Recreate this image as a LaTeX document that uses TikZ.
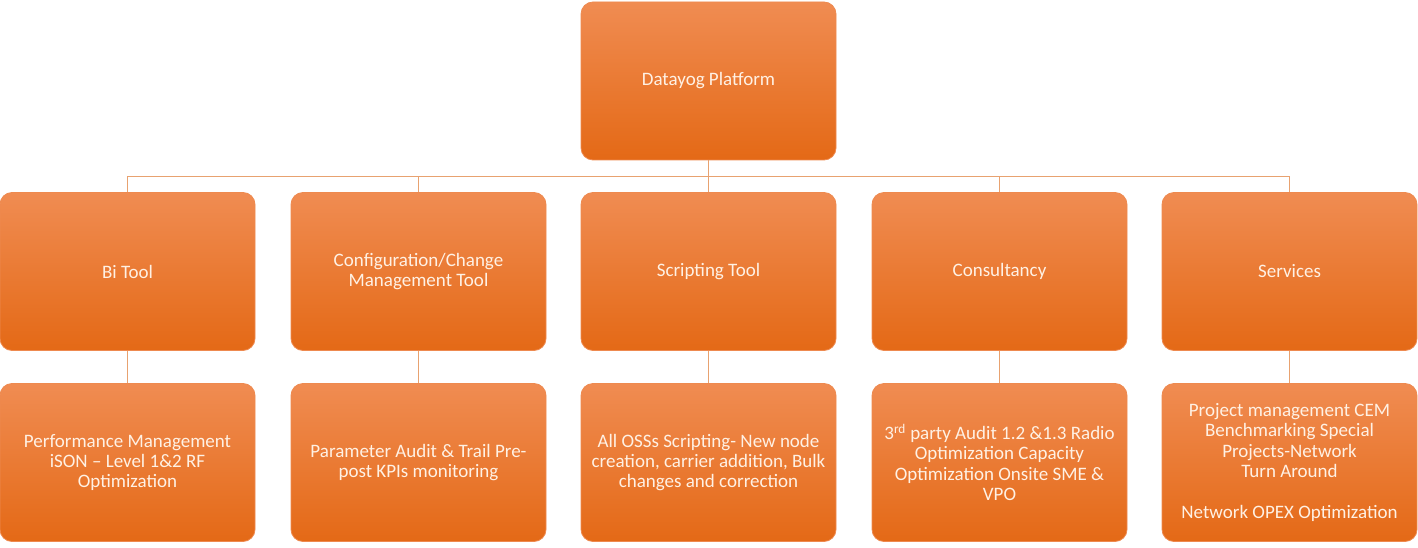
\documentclass[tikz,border=0pt]{standalone}
\usepackage{fontspec}
\setmainfont{Carlito}
\usepackage{tikz}

\definecolor{boxtop}{RGB}{240,140,82}
\definecolor{boxmid}{RGB}{241,122,40}
\definecolor{boxbot}{RGB}{228,105,22}
\definecolor{boxedge}{RGB}{238,138,80}
\definecolor{linkcol}{RGB}{232,162,112}
\definecolor{textcol}{RGB}{255,241,228}

\begin{document}
\begin{tikzpicture}[x=1pt,y=-1pt]
\tikzstyle{orgbox}=[draw=boxedge, line width=0.8pt, rounded corners=12pt,
  top color=boxtop, middle color=boxmid, bottom color=boxbot,
  minimum width=255pt, minimum height=158pt, inner sep=0pt,
  text=textcol, align=center, font=\fontsize{19}{20.4}\selectfont]
\tikzstyle{link}=[draw=linkcol, line width=1.2pt]
\useasboundingbox (0,0) rectangle (1418,548);
% top level
\node[orgbox] (platform) at (708.5,81) {Datayog Platform};
% second row
\node[orgbox] (bi) at (127.5,271.5) {Bi Tool};
\node[orgbox] (config) at (418.5,271.5) {Configuration/Change\\Management Tool};
\node[orgbox] (script) at (708.5,271.5) {Scripting Tool};
\node[orgbox] (consult) at (999.5,271.5) {Consultancy};
\node[orgbox] (services) at (1289.5,271.5) {Services};
% third row
\node[orgbox] (perf) at (127.5,462.5) {Performance Management\\iSON -- Level 1\&2 RF\\Optimization};
\node[orgbox] (audit) at (418.5,462.5) {Parameter Audit \& Trail Pre-\\post KPIs monitoring};
\node[orgbox] (oss) at (708.5,462.5) {All OSSs Scripting- New node\\creation, carrier addition, Bulk\\changes and correction};
\node[orgbox] (party) at (999.5,462.5) {3\textsuperscript{rd} party Audit 1.2 \&1.3 Radio\\Optimization Capacity\\Optimization Onsite SME \&\\VPO};
\node[orgbox] (project) at (1289.5,462.5) {Project management CEM\\Benchmarking Special\\Projects-Network\\Turn Around\\~\\Network OPEX Optimization};
% connectors
\foreach \n in {bi,config,script,consult,services}
  \draw[link] (platform.south) -- ++(0,16) -| (\n.north);
\draw[link] (bi.south) -- (perf.north);
\draw[link] (config.south) -- (audit.north);
\draw[link] (script.south) -- (oss.north);
\draw[link] (consult.south) -- (party.north);
\draw[link] (services.south) -- (project.north);
\end{tikzpicture}
\end{document}
